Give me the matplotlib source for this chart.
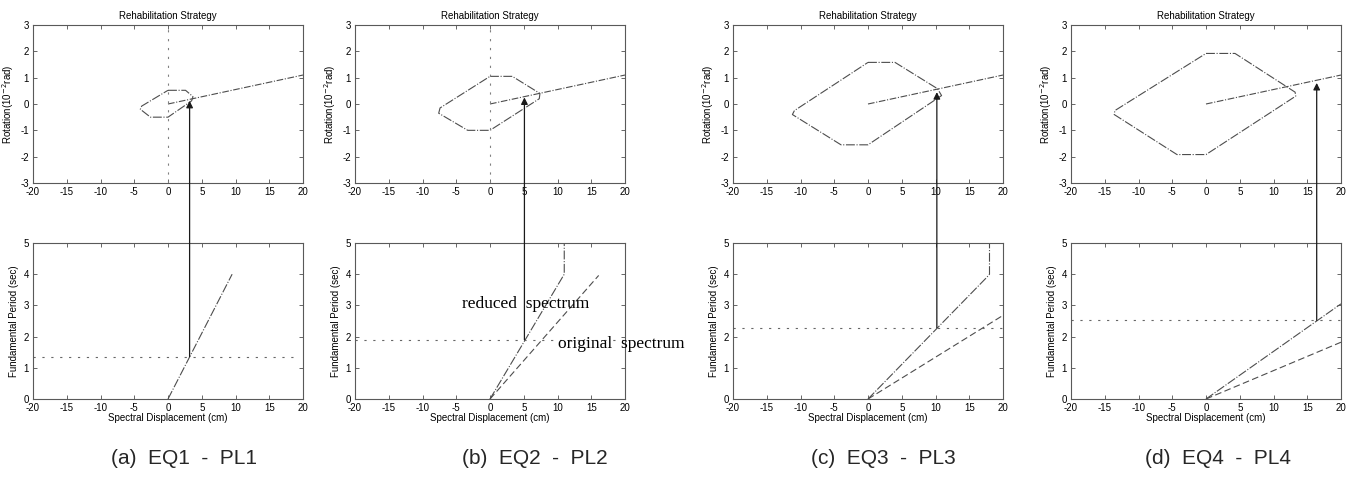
import numpy as np
import matplotlib.pyplot as plt
from matplotlib.patches import ConnectionPatch

plt.rcParams['font.family'] = ['Liberation Sans', 'DejaVu Sans']
plt.rcParams['axes.unicode_minus'] = False

# panel captions
captions = ["(a)  EQ1  -  PL1", "(b)  EQ2  -  PL2", "(c)  EQ3  -  PL3", "(d)  EQ4  -  PL4"]

# rehabilitation region (top plots): spectral displacement (cm), rotation (1e-2 rad)
region_x = [
    [0, 2.6, 3.7, 3.5, 0, -2.6, -4.1, -3.9, 0],
    [0, 3.3, 7.4, 7.3, 0, -3.3, -7.6, -7.4, 0],
    [0, 4.0, 10.3, 10.9, 0, -4.0, -11.2, -10.9, 0],
    [0, 4.3, 13.2, 13.3, 0, -4.3, -13.6, -13.5, 0],
]
region_y = [
    [0.52, 0.52, 0.28, 0.12, -0.5, -0.5, -0.2, -0.08, 0.52],
    [1.05, 1.05, 0.40, 0.20, -1.0, -1.0, -0.35, -0.15, 1.05],
    [1.58, 1.58, 0.58, 0.32, -1.55, -1.55, -0.40, -0.25, 1.58],
    [1.92, 1.92, 0.45, 0.30, -1.92, -1.92, -0.40, -0.25, 1.92],
]
# demand line (same in all panels)
demand_x = [0, 20]
demand_y = [0, 1.1]

# spectra (bottom plots): spectral displacement (cm), period (sec)
reduced_x = [[0, 9.5], [0, 11.0, 11.0], [0, 17.6, 18.0, 18.0], [0, 20]]
reduced_y = [[0, 4.0], [0, 4.0, 5.0], [0, 3.9, 4.0, 5.0], [0, 3.05]]
original_x = [None, [0, 16.1], [0, 20], [0, 20]]
original_y = [None, [0, 3.96], [0, 2.68], [0, 1.82]]
# selected period and displacement (arrow)
period_level = [1.36, 1.9, 2.28, 2.52]
sd_point = [3.2, 5.1, 10.2, 16.4]
level_end = [18.5, 20, 20, 20]
arrow_tip = [0.12, 0.25, 0.45, 0.8]

W, H = 1356, 483
fig = plt.figure(figsize=(W / 100, H / 100), dpi=100)

lefts = [33, 355, 733, 1071]
caption_x = [184, 535, 883, 1218]
aw = 270
gray = '0.3'


def style(ax):
    ax.tick_params(direction='in', top=True, right=True, labelsize=7, length=3,
                   width=0.6, color='0.3')
    ax.tick_params(axis='x', pad=3)
    ax.tick_params(axis='y', pad=3)
    for s in ax.spines.values():
        s.set_linewidth(0.8)
        s.set_color('0.35')


for i in range(4):
    l = lefts[i] / W
    ax_t = fig.add_axes([l, 1 - 183 / H, aw / W, 158 / H])
    ax_b = fig.add_axes([l, 1 - 399 / H, aw / W, 156 / H])

    # top: rehabilitation strategy
    ax_t.plot(region_x[i], region_y[i], color=gray, lw=0.8, ls=(0, (8, 1.5, 1, 1.5)))
    ax_t.plot(demand_x, demand_y, color=gray, lw=0.8, ls=(0, (6, 1.5, 1, 1.5)))
    if i < 2:
        ax_t.plot([0, 0], [-3, 3], color='0.5', lw=0.8, ls=(0, (2, 6)))
    ax_t.set_xlim(-20, 20)
    ax_t.set_ylim(-3, 3)
    ax_t.set_xticks(np.arange(-20, 21, 5))
    ax_t.set_yticks(np.arange(-3, 4, 1))
    ax_t.set_title("Rehabilitation Strategy", fontsize=7, pad=4)
    ax_t.set_ylabel(r"Rotation(10$^{-2}$rad)", fontsize=7, labelpad=3)
    style(ax_t)

    # bottom: spectra
    ax_b.plot(reduced_x[i], reduced_y[i], color=gray, lw=0.8, ls=(0, (8, 1.5, 1, 1.5)))
    if original_x[i] is not None:
        ax_b.plot(original_x[i], original_y[i], color=gray, lw=0.8, ls=(0, (6, 3)))
    ax_b.plot([-20, level_end[i]], [period_level[i]] * 2, color='0.4', lw=0.8,
              ls=(0, (2, 6)))
    ax_b.set_xlim(-20, 20)
    ax_b.set_ylim(0, 5)
    ax_b.set_xticks(np.arange(-20, 21, 5))
    ax_b.set_yticks(np.arange(0, 6, 1))
    ax_b.set_xlabel("Spectral Displacement (cm)", fontsize=7, labelpad=0)
    ax_b.set_ylabel("Fundamental Period (sec)", fontsize=7, labelpad=3)
    style(ax_b)

    # arrow from the selected period up to the rotation plot
    con = ConnectionPatch(xyA=(sd_point[i], period_level[i]), coordsA=ax_b.transData,
                          xyB=(sd_point[i], arrow_tip[i]), coordsB=ax_t.transData,
                          arrowstyle='-|>', mutation_scale=10, color='0.1', lw=0.9)
    fig.add_artist(con)

    if i == 1:
        ax_b.text(5.3, 3.05, "reduced  spectrum", fontsize=12.5, family='Liberation Serif',
                  ha='center', va='center')
        ax_b.text(10.0, 1.75, "original  spectrum", fontsize=12.5, family='Liberation Serif',
                  ha='left', va='center', clip_on=False)

    fig.text(caption_x[i] / W, 1 - 458 / H, captions[i], fontsize=15,
             ha='center', va='center', color='0.15')

fig.savefig("out.png", dpi=100)
